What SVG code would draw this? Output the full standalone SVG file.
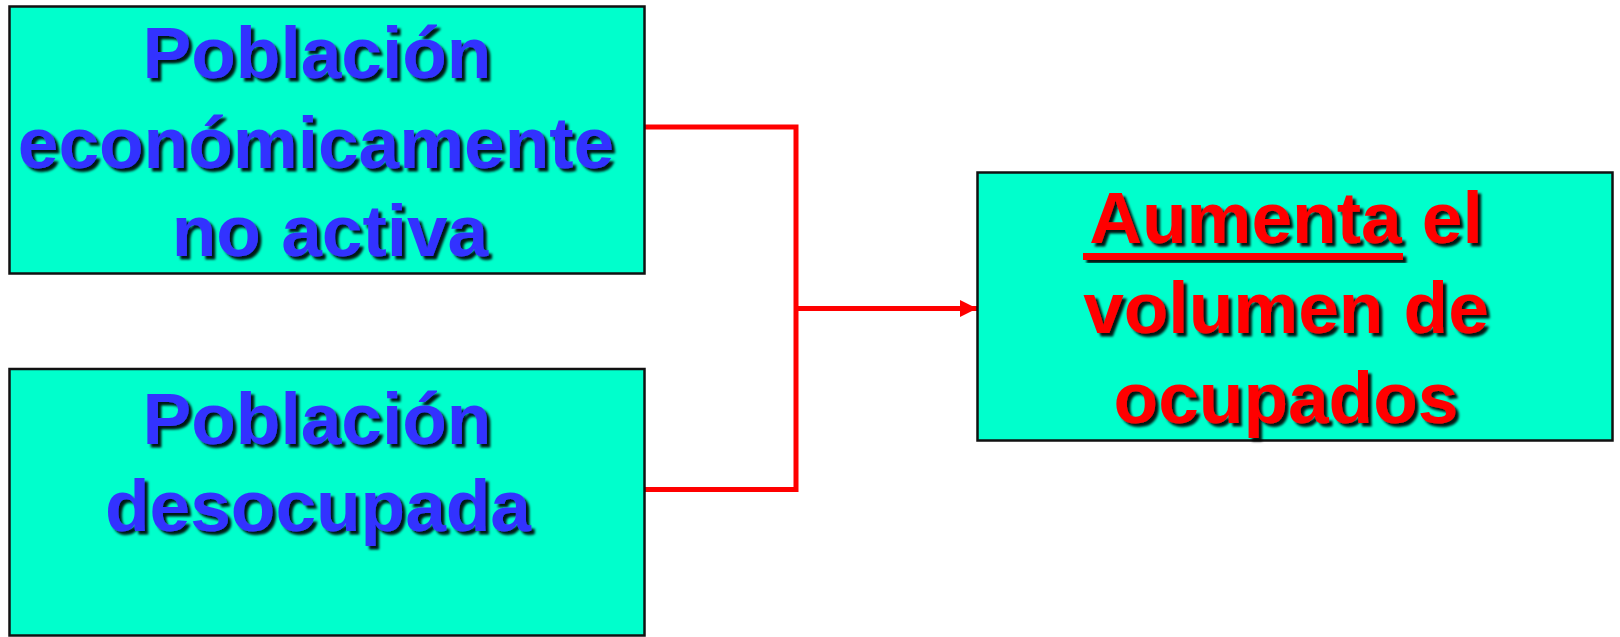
<svg xmlns="http://www.w3.org/2000/svg" width="1620" height="637" viewBox="0 0 1620 637">
<defs>
<style>
.box{fill:#00FFCC;stroke:#111;stroke-width:2.5}
.t{font-family:"Liberation Sans",Arial,sans-serif;font-weight:bold;font-size:73px;text-anchor:middle;filter:url(#sh)}
.blue{fill:#3333FF}
.red{fill:#FF0000}
.conn{stroke:#FF0000;stroke-width:5;fill:none}
</style>
<filter id="sh" x="-5%" y="-20%" width="115%" height="150%">
<feDropShadow dx="3.5" dy="3.5" stdDeviation="1.2" flood-color="#000" flood-opacity="0.9"/>
</filter>
<marker id="arr" viewBox="0 0 17 17" refX="17" refY="8.5" markerWidth="17" markerHeight="17" markerUnits="userSpaceOnUse" orient="auto">
<path d="M0,0 L17,8.5 L0,17 Z" fill="#FF0000"/>
</marker>
</defs>
<rect width="1620" height="637" fill="#fff"/>
<g id="connectors">
<polyline class="conn" points="645,127 796,127 796,489.5 645,489.5"/>
<line class="conn" x1="796" y1="308.5" x2="977" y2="308.5" marker-end="url(#arr)"/>
</g>
<g id="node-inactiva">
<rect class="box" x="9.5" y="6.5" width="635" height="267"/>
<text class="t blue" x="317" y="78">Población</text>
<text class="t blue" x="316" y="168">económicamente</text>
<text class="t blue" x="330" y="256">no activa</text>
</g>
<g id="node-desocupada">
<rect class="box" x="9.5" y="369" width="635" height="266.5"/>
<text class="t blue" x="317" y="444">Población</text>
<text class="t blue" x="318" y="531">desocupada</text>
</g>
<g id="node-aumenta">
<rect class="box" x="977.5" y="172.5" width="635" height="268"/>
<text class="t red" x="1286" y="243">Aumenta el</text>
<rect x="1083" y="253" width="320" height="7" fill="#FF0000" filter="url(#sh)"/>
<text class="t red" x="1286" y="333">volumen de</text>
<text class="t red" x="1286" y="423">ocupados</text>
</g>
</svg>
